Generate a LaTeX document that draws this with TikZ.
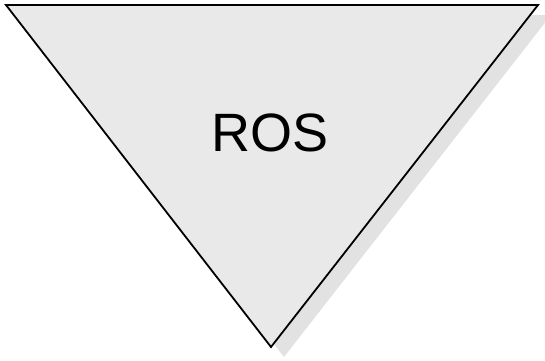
\documentclass[tikz,border=0pt]{standalone}
\usepackage{fontspec}
\setmainfont{Liberation Sans}
\usepackage{xcolor}
\usetikzlibrary{positioning}

\definecolor{trifill}{HTML}{E9E9E9}
\definecolor{trishadow}{HTML}{E2E2E2}

\begin{document}
\begin{tikzpicture}[
				x=1pt, y=1pt,
				tri/.style={draw=black, line width=1.8pt, fill=trifill, line join=miter},
				shadow/.style={fill=trishadow},
				label/.style={font=\fontsize{54}{60}\selectfont, text=black, inner sep=0pt}
				]
				\useasboundingbox (0,0) rectangle (545,360);
				
				%% --- corners of the funnel triangle ---
				\coordinate (tl) at (6,355);
				\coordinate (tr) at (538,355);
				\coordinate (bt) at (271,13);
				
				%% --- drop shadow, then the triangle itself ---
				\fill[shadow] ([shift={(13,-10)}]tl) -- ([shift={(13,-10)}]tr) -- ([shift={(13,-10)}]bt) -- cycle;
				\draw[tri] (tl) -- (tr) -- (bt) -- cycle;
				
				\node[label] (ros) at (270,227) {ROS};
				
\end{tikzpicture}
\end{document}
